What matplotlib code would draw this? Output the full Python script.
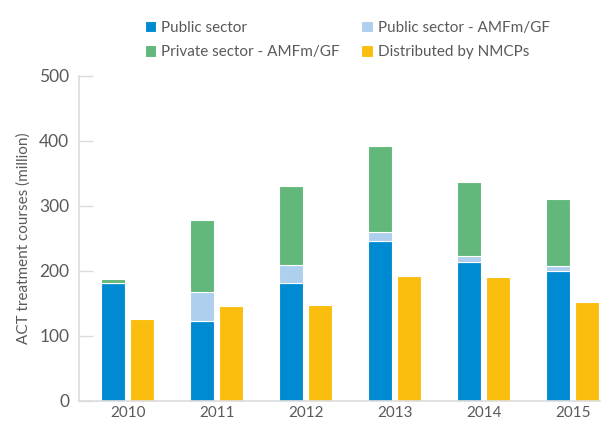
import matplotlib.pyplot as plt
import numpy as np

years = ['2010', '2011', '2012', '2013', '2014', '2015']
public = [181, 122, 181, 245, 214, 199]
public_amfm = [0, 46, 28, 14, 8, 9]
private_amfm = [6, 110, 122, 133, 114, 102]
nmcp = [126, 146, 148, 192, 191, 152]

c_pub = '#008ad2'
c_pub_amfm = '#aecfee'
c_priv = '#61b87a'
c_nmcp = '#fbbe0e'
txt = '#5a5a5a'
grey = '#dcdcdc'

plt.rcParams['font.family'] = ['Lato', 'DejaVu Sans']

fig = plt.figure(figsize=(6.01, 4.21), dpi=100)
ax = fig.add_axes([79 / 601, 20.3 / 421, 521 / 601, 325 / 421])

x = np.arange(len(years))
w = 0.27
off = 0.165
pub = np.array(public)
pam = np.array(public_amfm)

b1 = ax.bar(x - off, public, w, color=c_pub, edgecolor='white', linewidth=0.8)
b2 = ax.bar(x - off, public_amfm, w, bottom=pub, color=c_pub_amfm, edgecolor='white', linewidth=0.8)
b3 = ax.bar(x - off, private_amfm, w, bottom=pub + pam, color=c_priv, edgecolor='white', linewidth=0.8)
b4 = ax.bar(x + off, nmcp, w, color=c_nmcp, edgecolor='white', linewidth=0.8)

ax.set_xlim(-0.547, 5.307)
ax.set_ylim(0, 500)
ax.set_xticks(x)
ax.set_xticklabels(years)
ax.set_yticks(range(0, 501, 100))

ax.tick_params(axis='x', length=0, pad=4, labelsize=11, labelcolor=txt)
ax.tick_params(axis='y', direction='in', length=10, width=1, color=grey,
               pad=7, labelsize=12.5, labelcolor=txt)

for s in ['top', 'right']:
    ax.spines[s].set_visible(False)
for s in ['left', 'bottom']:
    ax.spines[s].set_color(grey)
    ax.spines[s].set_linewidth(1.2)

ax.set_ylabel('ACT treatment courses (million)', fontsize=11, color=txt, labelpad=6)

handles = [b1, b3, b2, b4]
labels = ['Public sector', 'Private sector - AMFm/GF',
          'Public sector - AMFm/GF', 'Distributed by NMCPs']
fig.legend(handles, labels, ncol=2, loc='upper left',
           bbox_to_anchor=(137 / 601, 1 - 13 / 421), frameon=False,
           fontsize=11, labelcolor=txt, handlelength=0.75, handleheight=0.75,
           handletextpad=0.35, columnspacing=1.4, labelspacing=0.7, borderpad=0)

fig.savefig('out.png', dpi=100)
